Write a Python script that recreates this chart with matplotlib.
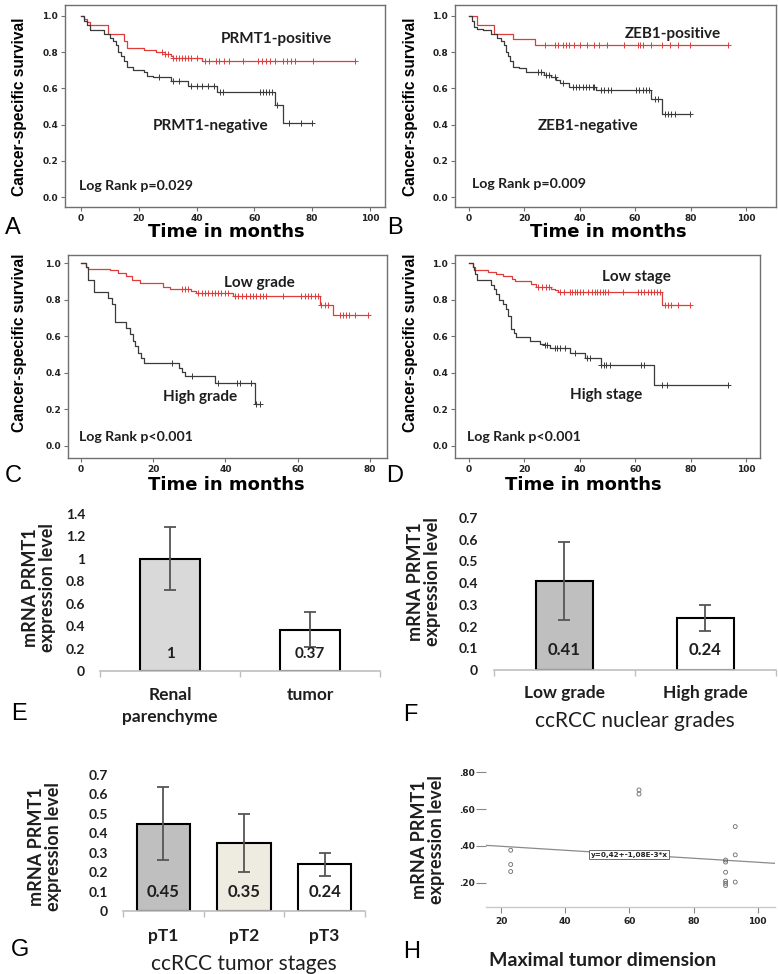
import numpy as np
import matplotlib
matplotlib.use("Agg")
import matplotlib.pyplot as plt
from matplotlib.ticker import FixedLocator, FuncFormatter
from matplotlib.font_manager import FontProperties

# ---------------- DATA ----------------
# Panel A: PRMT1
a_pos_t = [0, 1, 2, 3, 9.5, 15, 16, 22, 26, 29, 31, 32, 42]
a_pos_s = [1.0, 0.98, 0.965, 0.95, 0.90, 0.86, 0.82, 0.81, 0.80, 0.79, 0.78, 0.77, 0.75]
a_pos_c = [28, 29, 30, 32, 33, 34, 35, 36, 37, 38, 40, 42.8, 44.3, 46.6, 47.8, 49.5, 51.3, 56.1,
           61.1, 62.6, 64.0, 65.5, 67.2, 69.8, 71.2, 72.7, 73.9, 80.3, 94.8]
a_neg_t = [0, 1, 2, 3, 8, 10, 11, 12, 13, 14, 15, 16, 18, 22, 23, 25, 31, 37, 47, 67, 70]
a_neg_s = [1.0, 0.97, 0.95, 0.92, 0.90, 0.88, 0.86, 0.84, 0.80, 0.78, 0.75, 0.72, 0.70, 0.69,
           0.67, 0.66, 0.64, 0.615, 0.58, 0.51, 0.41]
a_neg_c = [27, 32, 34, 38, 40, 42, 44, 46, 48, 49, 62, 63, 64, 65, 66, 68, 72, 76, 80]

# Panel B: ZEB1
b_pos_t = [0, 3, 9, 16, 24]
b_pos_s = [1.0, 0.95, 0.90, 0.87, 0.84]
b_pos_c = [27.6, 30.9, 32.3, 33.9, 34.9, 36.3, 38.1, 40.2, 42.7, 45.1, 46.8, 49.9, 55.8, 60.9,
           61.9, 62.7, 65.7, 69.6, 72.4, 75.6, 79.6, 93.4]
b_neg_t = [0, 1, 2, 3, 5, 8, 10, 11.5, 12.5, 13.5, 14, 15, 16, 18, 20.7, 27, 29.7, 31.5, 33, 36.3,
           46, 65.7, 69.7]
b_neg_s = [1.0, 0.97, 0.94, 0.93, 0.92, 0.90, 0.88, 0.86, 0.84, 0.80, 0.78, 0.75, 0.72, 0.71,
           0.69, 0.675, 0.66, 0.645, 0.63, 0.61, 0.59, 0.54, 0.46]
b_neg_c = [25, 26, 28, 29, 31, 34, 37.5, 38.7, 39.9, 41.1, 42.3, 43.5, 44.7, 45.3, 47.7, 48.9,
           50.1, 51.1, 60.3, 61.5, 62.7, 63.9, 65.1, 67, 68.1, 70.6, 71.8, 73, 74.2, 79.6]

# Panel C: nuclear grade
c_low_t = [0, 1.3, 2, 8, 10.3, 12.5, 14, 16.3, 22.8, 24.6, 30.6, 32, 42.2, 66.1, 69.8]
c_low_s = [1.0, 0.98, 0.97, 0.96, 0.945, 0.93, 0.91, 0.89, 0.87, 0.86, 0.846, 0.835, 0.822,
           0.772, 0.717]
c_low_c = [27.9, 28.8, 29.7, 32.5, 33.4, 34.3, 35.2, 36.2, 37.1, 38.0, 38.9, 39.9, 40.8, 42.6,
           43.5, 44.5, 45.7, 46.8, 47.7, 48.6, 49.6, 50.5, 51.4, 56, 61.1, 62, 62.9, 63.8, 64.8,
           65.7, 66.6, 67.5, 68.5, 71.7, 72.6, 73.5, 74.4, 75.8, 79.5]
c_high_t = [0, 1.4, 2, 3.6, 7.6, 8.5, 9.4, 12.6, 13.6, 14.3, 15, 15.9, 16.5, 17.4, 27.2, 28.1,
            28.8, 37.1, 48.2]
c_high_s = [1.0, 0.98, 0.91, 0.84, 0.81, 0.776, 0.68, 0.644, 0.61, 0.574, 0.547, 0.51, 0.48,
            0.455, 0.424, 0.406, 0.382, 0.345, 0.23]
c_high_c = [25.3, 30.9, 38, 43.1, 44, 47.2, 48.6, 49.5]

# Panel D: stage
d_low_t = [0, 1.4, 2.3, 6.9, 9.9, 12.3, 15.5, 16.5, 22.5, 24.3, 29.7, 30.9, 32.1, 69.7]
d_low_s = [1.0, 0.978, 0.963, 0.95, 0.938, 0.927, 0.914, 0.90, 0.886, 0.87, 0.86, 0.85, 0.84,
           0.772]
d_low_c = [24.9, 26.3, 27.9, 28.7, 32.7, 34.3, 36.3, 37.1, 38.1, 39.1, 40, 41.1, 42.9, 44.4,
           45.6, 46.3, 47.1, 48.3, 49.2, 50.1, 55.5, 60.9, 62.1, 63.1, 64.5, 65.7, 66.9, 67.9,
           68.8, 70.6, 71.8, 73, 75.4, 79.6]
d_high_t = [0, 1.4, 1.8, 2.3, 3, 8, 9, 9.9, 11, 12.3, 13.5, 14, 15.3, 16.2, 17.1, 21.9, 25.5,
            27.3, 29.1, 36.3, 41.7, 47.7, 66.7]
d_high_s = [1.0, 0.978, 0.96, 0.94, 0.905, 0.88, 0.86, 0.83, 0.80, 0.776, 0.75, 0.71, 0.64,
            0.62, 0.593, 0.574, 0.56, 0.552, 0.538, 0.51, 0.483, 0.442, 0.332]
d_high_c = [27.3, 28.2, 30.9, 31.9, 32.7, 34.5, 38.1, 42.7, 43.5, 47.7, 48.7, 49.5, 50.7, 62.1,
            63.1, 69.6, 71.5, 93.4]

# Panel E
e_cats = ["Renal\nparenchyme", "tumor"]
e_vals = [1.0, 0.37]
e_errs = [0.28, 0.16]
e_labels = ["1", "0.37"]
e_yticks = [0, 0.2, 0.4, 0.6, 0.8, 1.0, 1.2, 1.4]

# Panel F
f_cats = ["Low grade", "High grade"]
f_vals = [0.41, 0.24]
f_errs = [0.18, 0.06]
f_labels = ["0.41", "0.24"]
f_yticks = [0, 0.1, 0.2, 0.3, 0.4, 0.5, 0.6, 0.7]

# Panel G
g_cats = ["pT1", "pT2", "pT3"]
g_vals = [0.45, 0.35, 0.24]
g_errs = [0.19, 0.15, 0.06]
g_labels = ["0.45", "0.35", "0.24"]
g_yticks = [0, 0.1, 0.2, 0.3, 0.4, 0.5, 0.6, 0.7]

# Panel H
h_x = [23, 23, 23, 63, 63, 90, 90, 90, 90, 90, 90, 93, 93, 93]
h_y = [0.377, 0.300, 0.262, 0.703, 0.681, 0.324, 0.313, 0.258, 0.210, 0.198, 0.186, 0.505,
       0.352, 0.205]
h_intercept = 0.42
h_slope = -1.08e-3
h_eq = "y=0,42+-1,08E-3*x"

# ---------------- LAYOUT ----------------
W, H = 778, 974
fig = plt.figure(figsize=(W / 100, H / 100), dpi=100)
fig.patch.set_facecolor("white")


def rect(l, t, r, b):
    return [l / W, 1 - b / H, (r - l) / W, (b - t) / H]


def ftext(x, y, s, **kw):
    fig.text(x / W, 1 - y / H, s, **kw)


RED = "#e03c3c"
BLK = "#3a3a3a"
FRAME = "#707070"
TXT = "#1e1e1e"
LATO = ["Lato", "DejaVu Sans"]
TICKFONT = dict(family="DejaVu Sans", weight="bold", size=6.5)
ANN = dict(family=LATO, weight="bold", size=11)
LOGR = dict(family=LATO, weight="bold", size=10.2)
NARROW = dict(family=["Liberation Sans", "DejaVu Sans"], weight="bold", size=11.2)
XLAB = dict(family="DejaVu Sans", weight="bold", size=13)
LETTER = dict(family=["Liberation Sans", "DejaVu Sans"], size=17)


def step_at(times, surv, t):
    idx = np.searchsorted(np.asarray(times), np.asarray(t), side="right") - 1
    return np.asarray(surv)[idx]


def km(r, xlim, ylim, xticks, curves, annots, logtxt):
    ax = fig.add_axes(rect(*r))
    for times, surv, cens, col in curves:
        end = max(max(cens), max(times))
        tt = list(times) + [end]
        ss = list(surv) + [surv[-1]]
        ax.step(tt, ss, where="post", color=col, lw=0.9)
        ax.plot(cens, step_at(times, surv, cens), ls="none", marker="+", ms=4,
                mew=0.7, color=col)
    ax.set_xlim(*xlim)
    ax.set_ylim(*ylim)
    yt = [0, 0.2, 0.4, 0.6, 0.8, 1.0]
    ax.set_xticks(xticks, labels=[f"{v:g}" for v in xticks], **TICKFONT)
    ax.set_yticks(yt, labels=[f"{v:.1f}" for v in yt], **TICKFONT)
    for sp in ax.spines.values():
        sp.set_color(FRAME)
        sp.set_linewidth(1)
    ax.tick_params(axis="both", direction="out", length=3, width=0.8, color=FRAME,
                   pad=2, labelcolor="#222222")
    for (x, y, s) in annots:
        ax.text(x, y, s, ha="center", va="center", color=TXT, **ANN)
    ax.text(logtxt[0], logtxt[1], logtxt[2], ha="left", va="center", color=TXT, **LOGR)
    return ax


# Panel A
km((65, 5, 385, 207), (-5.5, 105.2), (-0.055, 1.06), [0, 20, 40, 60, 80, 100],
   [(a_pos_t, a_pos_s, a_pos_c, RED), (a_neg_t, a_neg_s, a_neg_c, BLK)],
   [(67.5, 0.87, "PRMT1-positive"), (45, 0.39, "PRMT1-negative")],
   (-0.7, 0.06, "Log Rank p=0.029"))
ftext(20, 107, "Cancer-specific survival", rotation=90, ha="center", va="center", **NARROW)
ftext(226, 232, "Time in months", ha="center", va="center", **XLAB)
ftext(13, 228, "A", ha="center", va="center", **LETTER)

# Panel B
km((455, 5, 776, 207), (-5.0, 110.8), (-0.055, 1.06), [0, 20, 40, 60, 80, 100],
   [(b_pos_t, b_pos_s, b_pos_c, RED), (b_neg_t, b_neg_s, b_neg_c, BLK)],
   [(73.6, 0.90, "ZEB1-positive"), (43, 0.39, "ZEB1-negative")],
   (1.1, 0.07, "Log Rank p=0.009"))
ftext(411, 107, "Cancer-specific survival", rotation=90, ha="center", va="center", **NARROW)
ftext(608, 232, "Time in months", ha="center", va="center", **XLAB)
ftext(395, 228, "B", ha="center", va="center", **LETTER)

# Panel C
km((68, 255, 387, 458), (-3.6, 84.8), (-0.066, 1.044), [0, 20, 40, 60, 80],
   [(c_low_t, c_low_s, c_low_c, RED), (c_high_t, c_high_s, c_high_c, BLK)],
   [(49.5, 0.89, "Low grade"), (33, 0.266, "High grade")],
   (-0.5, 0.05, "Log Rank p<0.001"))
ftext(20, 343, "Cancer-specific survival", rotation=90, ha="center", va="center", **NARROW)
ftext(226, 485, "Time in months", ha="center", va="center", **XLAB)
ftext(13, 476, "C", ha="center", va="center", **LETTER)

# Panel D
km((455, 255, 760, 458), (-5.05, 105.0), (-0.066, 1.044), [0, 20, 40, 60, 80, 100],
   [(d_low_t, d_low_s, d_low_c, RED), (d_high_t, d_high_s, d_high_c, BLK)],
   [(60.5, 0.923, "Low stage"), (49.6, 0.277, "High stage")],
   (-0.6, 0.05, "Log Rank p<0.001"))
ftext(411, 343, "Cancer-specific survival", rotation=90, ha="center", va="center", **NARROW)
ftext(583, 485, "Time in months", ha="center", va="center", **XLAB)
ftext(395, 476, "D", ha="center", va="center", **LETTER)

# ---------------- BAR PANELS ----------------
YLAB = dict(family=LATO, weight="bold", size=13, color=TXT)


def bars(r, cats, vals, errs, colors, labels, ylim, yticks, width, val_y, val_size,
         ypad, xpad, linesp=1.2):
    ax = fig.add_axes(rect(*r))
    n = len(cats)
    x = np.arange(n)
    ax.bar(x, vals, width=width, color=colors, edgecolor="black", linewidth=1.5, zorder=2)
    ax.errorbar(x, vals, yerr=errs, fmt="none", ecolor="#555555", elinewidth=1.3,
                capsize=4.5, capthick=1.3, zorder=3)
    for xi, lab in zip(x, labels):
        ax.text(xi, val_y, lab, ha="center", va="center", family=LATO, weight="bold",
                size=val_size, color=TXT, zorder=4)
    ax.set_xlim(-0.5, n - 0.5)
    ax.set_ylim(*ylim)
    ax.set_yticks(yticks, labels=[f"{round(v, 2):g}" for v in yticks],
                  family=LATO, weight="bold", size=10)
    ax.set_xticks(x, labels=cats, family=LATO, weight="bold", size=12.5,
                  linespacing=linesp)
    ax.xaxis.set_minor_locator(FixedLocator(np.arange(n + 1) - 0.5))
    for s in ("left", "top", "right"):
        ax.spines[s].set_visible(False)
    ax.spines["bottom"].set_color("#bfbfbf")
    ax.spines["bottom"].set_linewidth(1.2)
    ax.tick_params(axis="y", length=0, pad=ypad, labelcolor=TXT)
    ax.tick_params(axis="x", which="major", length=0, pad=xpad, labelcolor=TXT)
    ax.tick_params(axis="x", which="minor", length=4, width=1, color="#bfbfbf")
    ax.set_facecolor("none")
    return ax


# Panel E
bars((100, 514, 380, 671), e_cats, e_vals, e_errs, ["#d9d9d9", "white"], e_labels,
     (0, 1.4), e_yticks, 0.43, 0.15, 11, 10.8, 11.5, 1.45)
ftext(39, 588, "mRNA PRMT1\nexpression level", rotation=90, ha="center", va="center",
      linespacing=1.0, **YLAB)
ftext(19, 714, "E", ha="center", va="center", **LETTER)

# Panel F
bars((494, 518, 776, 670), f_cats, f_vals, f_errs, ["#bfbfbf", "white"], f_labels,
     (0, 0.7), f_yticks, 0.41, 0.09, 12, 11.5, 10.5)
ftext(424, 582, "mRNA PRMT1\nexpression level", rotation=90, ha="center", va="center",
      linespacing=1.0, **YLAB)
ftext(635, 721, "ccRCC nuclear grades", ha="center", va="center", family=LATO,
      size=15, color=TXT)
ftext(410, 715, "F", ha="center", va="center", **LETTER)

# Panel G
bars((123, 775, 365, 911), g_cats, g_vals, g_errs, ["#bfbfbf", "#eeece1", "white"], g_labels,
     (0, 0.7), g_yticks, 0.66, 0.098, 12, 10.8, 12)
ftext(45, 847, "mRNA PRMT1\nexpression level", rotation=90, ha="center", va="center",
      linespacing=1.0, **YLAB)
ftext(244, 964, "ccRCC tumor stages", ha="center", va="center", family=LATO,
      size=15, color=TXT)
ftext(20, 950, "G", ha="center", va="center", **LETTER)

# ---------------- PANEL H ----------------
axh = fig.add_axes(rect(486, 765, 775, 907))
xl = (15.3, 105.4)
axh.set_xlim(*xl)
axh.set_ylim(0.07, 0.838)
xx = np.array(xl)
axh.plot(xx, h_intercept + h_slope * xx, color="#8a8a8a", lw=0.9)
axh.scatter(h_x, h_y, s=8, facecolors="none", edgecolors="#6a6a6a", linewidths=0.6, zorder=3)
axh.text(60, 0.352, h_eq, ha="center", va="center", family="DejaVu Sans", weight="bold",
         size=5.2, color="#222222",
         bbox=dict(boxstyle="square,pad=0.2", fc="white", ec="#555555", lw=0.6))
hx_t = [20, 40, 60, 80, 100]
hy_t = [0.2, 0.4, 0.6, 0.8]
axh.set_xticks(hx_t, labels=[f"{v:g}" for v in hx_t], **TICKFONT)
axh.set_yticks(hy_t, labels=[f"{v:.2f}"[1:] for v in hy_t], **TICKFONT)
for s in ("left", "top", "right"):
    axh.spines[s].set_visible(False)
axh.spines["bottom"].set_color("#c8c8c8")
axh.spines["bottom"].set_linewidth(1)
axh.tick_params(axis="y", length=7, width=0.8, color="#888888", pad=1, labelcolor="#222222")
axh.tick_params(axis="x", length=4, width=0.8, color="#888888", pad=3, labelcolor="#222222")
ftext(428, 840, "mRNA PRMT1\nexpression level", rotation=90, ha="center", va="center",
      linespacing=1.0, **YLAB)
ftext(603, 960, "Maximal tumor dimension", ha="center", va="center", family=LATO,
      weight="bold", size=14, color=TXT)
ftext(412, 952, "H", ha="center", va="center", **LETTER)

fig.savefig("out.png", dpi=100, facecolor="white")
